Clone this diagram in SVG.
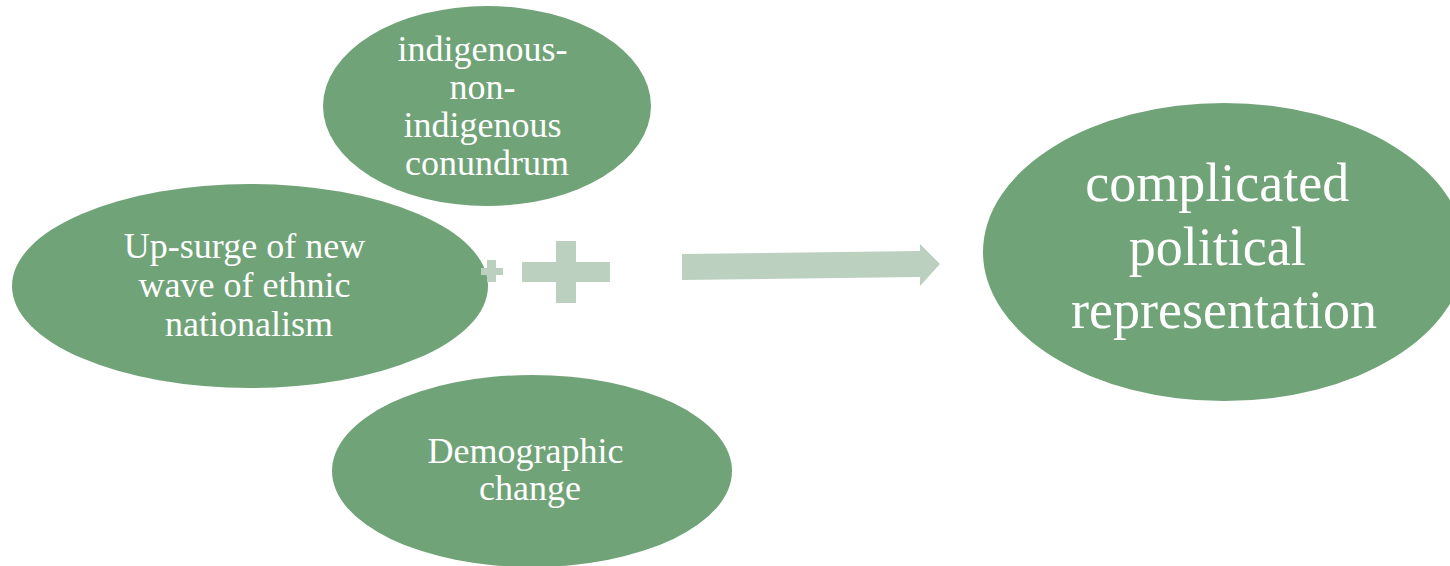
<svg xmlns="http://www.w3.org/2000/svg" width="1450" height="566" viewBox="0 0 1450 566">
  <style>
    .node { fill: #70A377; }
    .label { fill: #FFFFFF; font-family: "Liberation Serif", "Times New Roman", serif; text-anchor: middle; }
    .small { font-size: 36px; }
    .big { font-size: 54px; }
    .sym { fill: #BCD0BF; }
  </style>
  <rect width="1450" height="566" fill="#FFFFFF"/>

  <g id="node-indigenous">
    <ellipse class="node" cx="487" cy="106" rx="164" ry="100"/>
    <text class="label small">
      <tspan x="487" y="61">indigenous-</tspan>
      <tspan x="487" y="99">non-</tspan>
      <tspan x="487" y="137">indigenous</tspan>
      <tspan x="487" y="175">conundrum</tspan>
    </text>
  </g>

  <g id="node-upsurge">
    <ellipse class="node" cx="250" cy="286" rx="238" ry="102"/>
    <text class="label small">
      <tspan x="249" y="258">Up-surge of new</tspan>
      <tspan x="249" y="297">wave of ethnic</tspan>
      <tspan x="249" y="336">nationalism</tspan>
    </text>
  </g>

  <g id="node-demographic">
    <ellipse class="node" cx="532" cy="471" rx="200" ry="96"/>
    <text class="label small">
      <tspan x="530" y="463">Demographic</tspan>
      <tspan x="530" y="500">change</tspan>
    </text>
  </g>

  <g id="node-result">
    <ellipse class="node" cx="1224" cy="252" rx="241" ry="149"/>
    <text class="label big">
      <tspan x="1224" y="201">complicated</tspan>
      <tspan x="1224" y="265">political</tspan>
      <tspan x="1224" y="328">representation</tspan>
    </text>
  </g>

  <g id="connectors">
    <!-- small plus -->
    <path class="sym" d="M487,260 H496 V268 H503 V275 H496 V282 H487 V275 H481 V268 H487 Z"/>
    <!-- large plus -->
    <path class="sym" d="M556,241 H576 V262 H610 V282 H576 V303 H556 V282 H522 V262 H556 Z"/>
    <!-- block arrow to the result -->
    <polygon class="sym" points="682,254 920,251 920,244 940,264 920,286 920,277 682,280"/>
  </g>
</svg>
